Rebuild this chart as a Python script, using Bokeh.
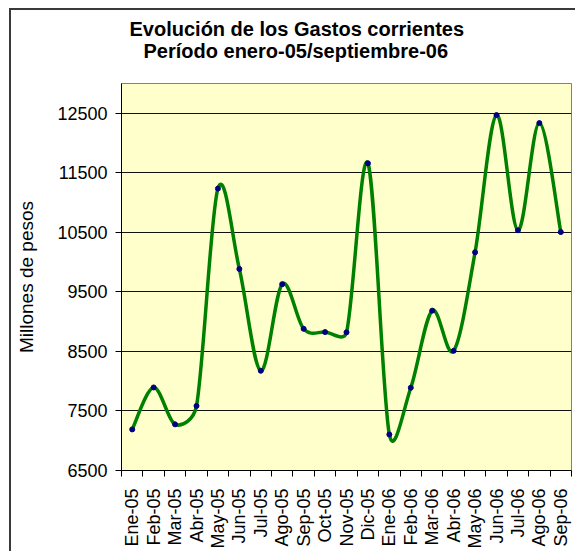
import math
from bokeh.plotting import figure
from bokeh.models import FixedTicker, Title, ColumnDataSource
from bokeh.embed import file_html
from bokeh.resources import INLINE

# ---- data ----
months = ["Ene-05", "Feb-05", "Mar-05", "Abr-05", "May-05", "Jun-05", "Jul-05",
          "Ago-05", "Sep-05", "Oct-05", "Nov-05", "Dic-05", "Ene-06", "Feb-06",
          "Mar-06", "Abr-06", "May-06", "Jun-06", "Jul-06", "Ago-06", "Sep-06"]
gastos = [7190, 7895, 7275, 7585, 11235, 9885, 8175, 9630, 8880, 8825, 8820,
          11660, 7105, 7890, 9185, 8510, 10165, 12470, 10535, 12335, 10505]
y_ticks = [6500, 7500, 8500, 9500, 10500, 11500, 12500]
title_1 = "Evolución de los Gastos corrientes"
title_2 = "Período enero-05/septiembre-06"
y_label = "Millones de pesos"

FONT = "Liberation Sans"
n = len(months)
xs = list(range(n))

W, H = 575, 551
ML, MR, MT, MB = 121, 4, 83, 73
y0, y1 = 6500, 13000

p = figure(width=W, height=H, x_range=(-0.5, n - 0.5), y_range=(y0, y1),
           output_backend="svg", toolbar_location=None,
           min_border_left=ML, min_border_right=MR, min_border_top=MT,
           min_border_bottom=MB, background_fill_color="#FFFFCC",
           border_fill_color="white", border_fill_alpha=0)
p.title.visible = False
p.outline_line_color = "#808080"
p.outline_line_width = 1
# outer chart-area border (left and top edges)
p.styles = {
    "background": "linear-gradient(#3a3a3a, #3a3a3a) 9px 8px / 2px 100% no-repeat, "
                  "linear-gradient(#3a3a3a, #3a3a3a) 9px 8px / 100% 2px no-repeat, white"
}

# grid
p.xgrid.visible = False
p.ygrid.ticker = FixedTicker(ticks=y_ticks[1:])
p.ygrid.grid_line_color = "#111111"
p.ygrid.grid_line_width = 1

# y axis
ya = p.yaxis[0]
ya.ticker = FixedTicker(ticks=y_ticks)
ya.axis_line_color = "black"
ya.major_tick_out = 6
ya.major_tick_in = 0
ya.major_tick_line_color = "black"
ya.minor_tick_line_color = None
ya.major_label_text_font = FONT
ya.major_label_text_font_size = "18px"
ya.major_label_text_color = "black"
ya.major_label_standoff = 8
ya.axis_label = y_label
ya.axis_label_text_font = FONT
ya.axis_label_text_font_size = "19px"
ya.axis_label_text_font_style = "normal"
ya.axis_label_text_color = "black"
ya.axis_label_standoff = 17

# x axis
xa = p.xaxis[0]
xa.ticker = FixedTicker(ticks=xs, minor_ticks=[i - 0.5 for i in range(n + 1)])
xa.major_label_overrides = {i: m for i, m in enumerate(months)}
xa.major_label_orientation = math.pi / 2
xa.axis_line_color = "black"
xa.major_tick_out = 0
xa.major_tick_in = 0
xa.minor_tick_out = 6
xa.minor_tick_in = 0
xa.minor_tick_line_color = "black"
xa.major_label_text_font = FONT
xa.major_label_text_font_size = "18px"
xa.major_label_text_color = "black"
xa.major_label_standoff = 12

# pixel scales of the frame
fw = W - ML - MR
fh = H - MT - MB
sx = fw / n
sy = fh / (y1 - y0)

def dpx(a, b):
    return math.hypot((b[0] - a[0]) * sx, (b[1] - a[1]) * sy)

# smoothed line (Bezier segments, control points derived from the data)
pts = list(zip(xs, gastos))
seg = dict(x0=[], y0=[], x1=[], y1=[], cx0=[], cy0=[], cx1=[], cy1=[])
for i in range(n - 1):
    P0 = pts[i - 1] if i > 0 else pts[i]
    P1 = pts[i]
    P2 = pts[i + 1]
    P3 = pts[i + 2] if i + 2 < n else pts[i + 1]
    d12 = dpx(P1, P2)
    d02 = dpx(P0, P2)
    d13 = dpx(P1, P3)
    f1 = 1 / 6
    if d02 > 0 and d02 / 6 > d12 / 2:
        f1 = d12 / (2 * d02)
    f2 = 1 / 6
    if d13 > 0 and d13 / 6 > d12 / 2:
        f2 = d12 / (2 * d13)
    seg["x0"].append(P1[0]); seg["y0"].append(P1[1])
    seg["x1"].append(P2[0]); seg["y1"].append(P2[1])
    seg["cx0"].append(P1[0] + f1 * (P2[0] - P0[0]))
    seg["cy0"].append(P1[1] + f1 * (P2[1] - P0[1]))
    seg["cx1"].append(P2[0] - f2 * (P3[0] - P1[0]))
    seg["cy1"].append(P2[1] - f2 * (P3[1] - P1[1]))

p.bezier(x0="x0", y0="y0", x1="x1", y1="y1", cx0="cx0", cy0="cy0",
         cx1="cx1", cy1="cy1", source=ColumnDataSource(seg),
         line_color="#008000", line_width=3.5, line_cap="round")
p.scatter(xs, gastos, size=5, color="#000080", line_color="#000080")

# chart titles: stacked above the plot area (first added is nearest the frame)
spacer = Title(text=" ", text_font_size="1px", standoff=19)
t2 = Title(text=title_2, align="left", offset=22, text_font=FONT,
           text_font_size="20px", text_font_style="bold", text_color="black",
           standoff=0)
t1 = Title(text=title_1, align="left", offset=8, text_font=FONT,
           text_font_size="20px", text_font_style="bold", text_color="black",
           standoff=-5)
p.add_layout(spacer, "above")
p.add_layout(t2, "above")
p.add_layout(t1, "above")

open("out.html", "w").write(file_html(p, INLINE))
